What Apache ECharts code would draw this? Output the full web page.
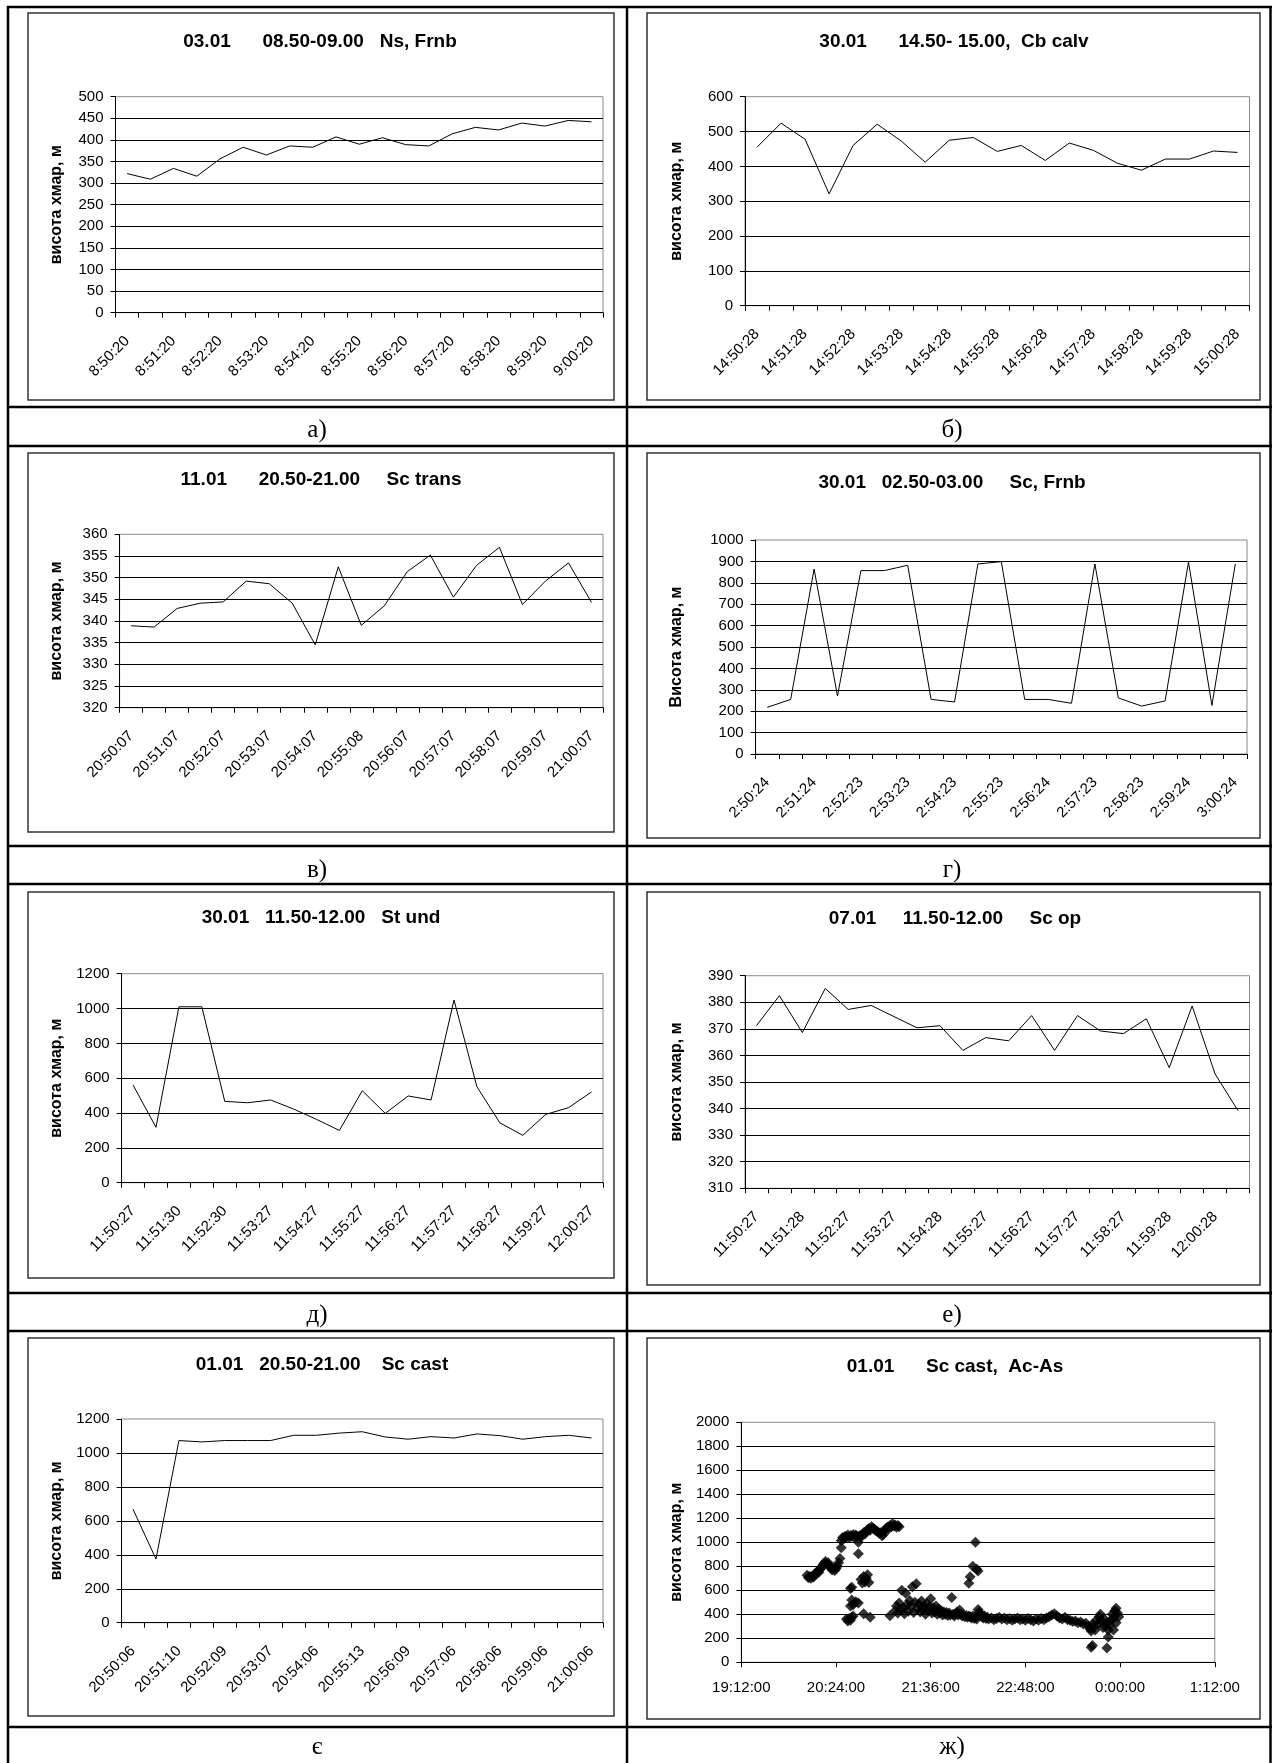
<!DOCTYPE html>
<html>
<head>
<meta charset="utf-8">
<script src="https://cdn.jsdelivr.net/npm/echarts@6/dist/echarts.min.js"></script>
<style>
  html, body { margin: 0; padding: 0; background: #ffffff; }
  #chart { width: 1272px; height: 1763px; }
</style>
</head>
<body>
<div id="chart"></div>
<script>
// ---- а) 03.01 08.50-09.00 Ns, Frnb ----
const timesA = ["8:50:20","8:50:50","8:51:20","8:51:50","8:52:20","8:52:50","8:53:20","8:53:50","8:54:20","8:54:50","8:55:20","8:55:50","8:56:20","8:56:50","8:57:20","8:57:50","8:58:20","8:58:50","8:59:20","8:59:50","9:00:20"];
const heightsA = [322, 309, 334, 316, 356, 383, 365, 386, 383, 407, 390, 405, 389, 386, 414, 429, 423, 439, 432, 445, 442];

// ---- б) 30.01 14.50-15.00 Cb calv ----
const timesB = ["14:50:28","14:50:58","14:51:28","14:51:58","14:52:28","14:52:58","14:53:28","14:53:58","14:54:28","14:54:58","14:55:28","14:55:58","14:56:28","14:56:58","14:57:28","14:57:58","14:58:28","14:58:58","14:59:28","14:59:58","15:00:28"];
const heightsB = [455, 524, 478, 321, 460, 521, 473, 412, 475, 483, 443, 460, 417, 467, 446, 409, 389, 421, 421, 444, 440];

// ---- в) 11.01 20.50-21.00 Sc trans ----
const timesV = ["20:50:07","20:50:37","20:51:07","20:51:37","20:52:07","20:52:37","20:53:07","20:53:37","20:54:07","20:54:37","20:55:08","20:55:37","20:56:07","20:56:37","20:57:07","20:57:37","20:58:07","20:58:37","20:59:07","20:59:37","21:00:07"];
const heightsV = [338.9, 338.6, 342.9, 344.1, 344.4, 349.2, 348.6, 344.1, 334.5, 352.5, 339.0, 343.5, 351.4, 355.2, 345.5, 352.8, 357.0, 343.8, 349.2, 353.4, 344.3];

// ---- г) 30.01 02.50-03.00 Sc, Frnb ----
const timesG = ["2:50:24","2:50:54","2:51:24","2:51:53","2:52:23","2:52:53","2:53:23","2:53:53","2:54:23","2:54:53","2:55:23","2:55:54","2:56:24","2:56:53","2:57:23","2:57:53","2:58:23","2:58:54","2:59:24","2:59:54","3:00:24"];
const heightsG = [218, 255, 864, 271, 857, 857, 882, 255, 243, 888, 899, 255, 255, 237, 888, 262, 224, 248, 897, 227, 888];

// ---- д) 30.01 11.50-12.00 St und ----
const timesD = ["11:50:27","11:50:58","11:51:30","11:52:00","11:52:30","11:52:58","11:53:27","11:53:57","11:54:27","11:54:57","11:55:27","11:55:57","11:56:27","11:56:57","11:57:27","11:57:57","11:58:27","11:58:57","11:59:27","11:59:57","12:00:27"];
const heightsD = [561, 318, 1010, 1010, 467, 459, 475, 423, 364, 300, 528, 398, 498, 475, 1049, 551, 344, 272, 392, 431, 521];

// ---- е) 07.01 11.50-12.00 Sc op ----
const timesE = ["11:50:27","11:50:57","11:51:28","11:51:57","11:52:27","11:52:57","11:53:27","11:53:57","11:54:28","11:54:57","11:55:27","11:55:57","11:56:27","11:56:57","11:57:27","11:57:57","11:58:27","11:58:58","11:59:28","11:59:58","12:00:28","12:00:58"];
const heightsE = [371.2, 382.5, 368.6, 385.2, 377.3, 378.8, 374.6, 370.4, 371.2, 361.9, 366.7, 365.5, 375.0, 361.9, 375.0, 369.2, 368.2, 373.8, 355.4, 378.6, 353.0, 339.2];

// ---- є) 01.01 20.50-21.00 Sc cast ----
const timesYe = ["20:50:06","20:50:38","20:51:10","20:51:39","20:52:09","20:52:38","20:53:07","20:53:36","20:54:06","20:54:40","20:55:13","20:55:41","20:56:09","20:56:37","20:57:06","20:57:36","20:58:06","20:58:36","20:59:06","20:59:36","21:00:06"];
const heightsYe = [668, 375, 1073, 1065, 1073, 1073, 1073, 1104, 1104, 1117, 1125, 1094, 1081, 1096, 1088, 1112, 1102, 1081, 1096, 1104, 1088];

// ---- ж) 01.01 Sc cast, Ac-As: evening record [clock time, height] ----
const eveningObs = [
  ["20:02",725],["20:03",705],["20:04",715],["20:05",700],["20:06",720],["20:07",710],["20:08",735],["20:09",745],
  ["20:10",760],["20:11",750],["20:12",775],["20:13",790],["20:14",810],["20:15",825],["20:16",840],["20:17",820],
  ["20:18",830],["20:19",805],["20:20",790],["20:21",770],["20:22",785],["20:23",765],["20:24",780],["20:25",800],
  ["20:26",830],["20:27",865],["20:28",955],
  ["20:28",1015],["20:29",1040],["20:30",1030],["20:31",1050],["20:32",1045],["20:33",1060],["20:34",1040],["20:35",1055],
  ["20:36",1050],["20:37",1065],["20:38",1040],["20:39",1060],["20:40",1050],["20:41",1000],["20:42",1055],["20:43",1045],
  ["20:44",1065],["20:45",1080],["20:46",1070],["20:47",1090],["20:48",1105],["20:49",1115],["20:50",1100],["20:51",1130],
  ["20:52",1120],["20:53",1110],["20:54",1100],["20:55",1095],["20:56",1085],["20:57",1075],["20:58",1080],["20:59",1055],
  ["21:00",1065],["21:01",1100],["21:02",1115],["21:03",1125],["21:04",1110],["21:05",1140],["21:06",1130],["21:07",1155],
  ["21:08",1135],["21:09",1145],["21:10",1125],["21:11",1140],["21:12",1130],
  ["20:41",905],["20:35",615],["20:36",625],["20:35",470],["20:36",520],["20:37",480],["20:39",505],["20:41",495],
  ["20:32",360],["20:33",345],["20:34",365],["20:35",350],["20:36",375],["20:37",385],
  ["20:43",690],["20:44",660],["20:45",715],["20:46",670],["20:47",700],["20:48",730],["20:49",665],
  ["20:45",405],["20:50",375],["21:05",388],
  ["21:09",430],["21:10",470],["21:11",410],["21:12",495],["21:13",440],["21:14",600],["21:15",455],["21:16",405],
  ["21:17",575],["21:18",480],["21:19",425],["21:20",515],["21:21",470],["21:22",630],["21:23",415],["21:24",500],
  ["21:25",655],["21:26",445],["21:27",485],["21:28",420],["21:29",510],["21:30",440],["21:31",470],["21:32",400],
  ["21:33",490],["21:34",430],["21:35",460],["21:36",530],["21:37",410],["21:38",455],["21:39",420],["21:40",470],
  ["21:41",400],["21:42",445],["21:43",410],["21:44",430],["21:45",395],["21:46",420],["21:47",400],["21:48",415],
  ["21:49",390],["21:50",410],["21:51",395],["21:52",540],["21:53",400],["21:54",385],["21:55",405],["21:56",420],
  ["21:57",395],["21:58",435],["21:59",400],["22:00",385],["22:01",395],["22:02",380],["22:03",390],["22:04",375],
  ["22:05",385],["22:06",380],["22:07",370],["22:08",385],["22:09",365],["22:10",375],["22:11",360],["22:12",440],
  ["22:13",420],["22:14",400],["22:15",380],["22:16",370],["22:17",385],["22:18",365],["22:19",375],["22:20",360],
  ["22:22",370],["22:24",355],["22:26",365],["22:28",375],["22:30",360],["22:32",370],["22:34",355],["22:36",365],
  ["22:38",350],["22:40",360],["22:42",370],["22:44",355],["22:46",360],["22:48",350],["22:50",365],["22:52",355],
  ["22:54",345],["22:56",360],["22:58",350],["23:00",365],["23:02",355],["23:04",370],["23:06",380],["23:08",395],
  ["23:10",405],["23:12",385],["23:14",370],["23:16",360],["23:18",375],["23:20",355],["23:22",350],["23:24",340],
  ["23:26",345],["23:28",330],["23:30",335],["23:32",320],["23:34",325],["23:36",300],["23:37",280],["23:38",260],
  ["23:39",320],["23:40",300],["23:41",270],["23:42",350],["23:43",320],["23:44",380],["23:45",400],["23:46",340],
  ["23:47",290],["23:48",360],["23:49",300],["23:50",330],["23:51",270],["23:52",310],["23:53",350],["23:54",400],
  ["23:55",370],["23:56",430],["23:57",450],["23:58",410],["23:59",380],
  ["22:05",658],["22:06",712],["22:08",800],["22:10",1000],["22:11",775],["22:12",760],
  ["23:38",125],["23:39",140],["23:50",120],["23:51",210],["23:55",270],["23:57",330]
];

const FONT = '"Liberation Sans", Arial, sans-serif';
const SERIF = '"Liberation Serif", "Times New Roman", serif';
const Y_NAME = 'висота хмар, м';

// Panel layout in page pixels: chart frame, plot area, title centre, y-title centre
const panels = [
  { title: '03.01      08.50-09.00   Ns, Frnb', cats: timesA, vals: heightsA, min: 0, max: 500, step: 50,
    frame: [28, 13, 614, 400], plot: [115.5, 96.7, 603, 312.7], titleXY: [320, 42], nameX: 57, yName: Y_NAME },
  { title: '30.01      14.50- 15.00,  Cb calv', cats: timesB, vals: heightsB, min: 0, max: 600, step: 100,
    frame: [647, 13, 1260, 400], plot: [745, 96.7, 1249.5, 305.7], titleXY: [954, 42], nameX: 677, yName: Y_NAME },
  { title: '11.01      20.50-21.00     Sc trans', cats: timesV, vals: heightsV, min: 320, max: 360, step: 5,
    frame: [28, 453, 614, 832], plot: [119.6, 534.3, 603, 707.7], titleXY: [321, 480], nameX: 57, yName: Y_NAME },
  { title: '30.01   02.50-03.00     Sc, Frnb', cats: timesG, vals: heightsG, min: 0, max: 1000, step: 100,
    frame: [647, 453, 1260, 838], plot: [755.6, 540, 1247, 754], titleXY: [952, 483], nameX: 677, yName: 'Висота хмар, м' },
  { title: '30.01   11.50-12.00   St und', cats: timesD, vals: heightsD, min: 0, max: 1200, step: 200,
    frame: [28, 892, 614, 1278], plot: [121.6, 973.7, 603, 1182.7], titleXY: [321, 918], nameX: 57, yName: Y_NAME },
  { title: '07.01     11.50-12.00     Sc op', cats: timesE, vals: heightsE, min: 310, max: 390, step: 10,
    frame: [647, 892, 1260, 1285], plot: [745, 975.7, 1249.5, 1188.3], titleXY: [955, 919], nameX: 677, yName: Y_NAME },
  { title: '01.01   20.50-21.00    Sc cast', cats: timesYe, vals: heightsYe, min: 0, max: 1200, step: 200,
    frame: [28, 1338, 614, 1716], plot: [121.6, 1419, 603, 1622.7], titleXY: [322, 1365], nameX: 57, yName: Y_NAME }
];
const scatterPanel = { title: '01.01      Sc cast,  Ac-As', min: 0, max: 2000, step: 200,
  frame: [647, 1338, 1260, 1719], plot: [741.3, 1422.3, 1214.8, 1662.3], titleXY: [955, 1367], nameX: 677, yName: Y_NAME };

// Evening time axis: minutes since midnight, running past 24:00
const T_MIN = 19 * 60 + 12, T_MAX = 25 * 60 + 12, T_STEP = 72;
function toMinutes(s) {
  const [h, m] = s.split(':').map(Number);
  return (h < 12 ? h + 24 : h) * 60 + m;
}
function clockLabel(v) {
  const h = Math.floor(v / 60) % 24, m = Math.round(v % 60);
  return h + ':' + String(m).padStart(2, '0') + ':00';
}

// Table cell captions
const captions = [
  ['а)', 317, 430], ['б)', 952, 430],
  ['в)', 317, 870], ['г)', 952, 870],
  ['д)', 317, 1315], ['е)', 952, 1315],
  ['є', 317, 1747], ['ж)', 952, 1747]
];

const grids = [], xAxes = [], yAxes = [], series = [], graphics = [];

function gridFor(p) {
  return {
    left: p[0], top: p[1], width: p[2] - p[0], height: p[3] - p[1],
    show: true, borderColor: '#8a8a8a', borderWidth: 1, backgroundColor: 'transparent',
    containLabel: false, outerBoundsMode: 'none'
  };
}
function valueAxis(i, cfg) {
  return {
    type: 'value', gridIndex: i, min: cfg.min, max: cfg.max, interval: cfg.step,
    axisLine: { show: true, lineStyle: { color: '#000', width: 1 } },
    axisTick: { show: true, length: 5, lineStyle: { color: '#000', width: 1 } },
    axisLabel: { show: true, margin: 12, fontSize: 15, color: '#000', fontFamily: FONT,
                 formatter: v => String(v) },
    splitLine: { show: true, showMaxLine: false, showMinLine: false, lineStyle: { color: '#000', width: 1 } },
    name: cfg.yName, nameLocation: 'middle', nameGap: cfg.plot[0] - cfg.nameX - 8,
    nameTextStyle: { fontWeight: 'bold', fontSize: 16, color: '#000', fontFamily: FONT }
  };
}

panels.forEach((cfg, i) => {
  grids.push(gridFor(cfg.plot));
  xAxes.push({
    type: 'category', gridIndex: i, data: cfg.cats, boundaryGap: true,
    axisLine: { show: true, lineStyle: { color: '#000', width: 1 } },
    axisTick: { show: true, interval: 0, length: 5, alignWithLabel: false, lineStyle: { color: '#000', width: 1 } },
    axisLabel: { show: true, interval: 1, rotate: 45, margin: 26, fontSize: 15, color: '#000', fontFamily: FONT, hideOverlap: false },
    splitLine: { show: false }
  });
  yAxes.push(valueAxis(i, cfg));
  series.push({
    type: 'line', xAxisIndex: i, yAxisIndex: i, data: cfg.vals,
    symbol: 'none', smooth: false, silent: true,
    lineStyle: { color: '#000', width: 1 }
  });
});

// Scatter panel ж)
const si = panels.length;
grids.push(gridFor(scatterPanel.plot));
xAxes.push({
  type: 'value', gridIndex: si, min: T_MIN, max: T_MAX, interval: T_STEP,
  axisLine: { show: true, lineStyle: { color: '#000', width: 1 } },
  axisTick: { show: true, length: 5, lineStyle: { color: '#000', width: 1 } },
  axisLabel: { show: true, margin: 18, fontSize: 15, color: '#000', fontFamily: FONT, formatter: clockLabel },
  splitLine: { show: false }
});
yAxes.push(valueAxis(si, scatterPanel));
series.push({
  type: 'scatter', xAxisIndex: si, yAxisIndex: si, silent: true,
  data: eveningObs.map(([t, h]) => [toMinutes(t), h]),
  symbol: 'diamond', symbolSize: 11,
  itemStyle: { color: '#000' }
});

// Table rulings
const LINE = { stroke: '#000', lineWidth: 2.5 };
const tableX = [8, 627, 1270.5];
const tableY = [7, 407, 446, 846, 884, 1293, 1331, 1727];
tableX.forEach(x => graphics.push({ type: 'line', shape: { x1: x, y1: 6, x2: x, y2: 1763 }, style: LINE, silent: true }));
tableY.forEach(y => graphics.push({ type: 'line', shape: { x1: 7, y1: y, x2: 1272, y2: y }, style: LINE, silent: true }));

// Chart frames and titles
panels.concat([scatterPanel]).forEach(cfg => {
  const f = cfg.frame;
  graphics.push({ type: 'rect', shape: { x: f[0], y: f[1], width: f[2] - f[0], height: f[3] - f[1] },
    style: { fill: null, stroke: '#333', lineWidth: 1.5 }, silent: true });
  graphics.push({ type: 'text', x: cfg.titleXY[0], y: cfg.titleXY[1], silent: true,
    style: { text: cfg.title, fill: '#000', font: 'bold 19px ' + FONT,
             align: 'center', verticalAlign: 'middle', textAlign: 'center', textVerticalAlign: 'middle' } });
});

captions.forEach(([txt, x, y]) => {
  graphics.push({ type: 'text', x: x, y: y, silent: true,
    style: { text: txt, fill: '#000', font: '25px ' + SERIF,
             align: 'center', verticalAlign: 'middle', textAlign: 'center', textVerticalAlign: 'middle' } });
});

const chart = echarts.init(document.getElementById('chart'), null, { renderer: 'canvas', width: 1272, height: 1763 });
chart.setOption({
  animation: false,
  backgroundColor: '#ffffff',
  textStyle: { fontFamily: FONT, color: '#000' },
  grid: grids,
  xAxis: xAxes,
  yAxis: yAxes,
  series: series,
  graphic: { elements: graphics }
});
</script>
</body>
</html>
